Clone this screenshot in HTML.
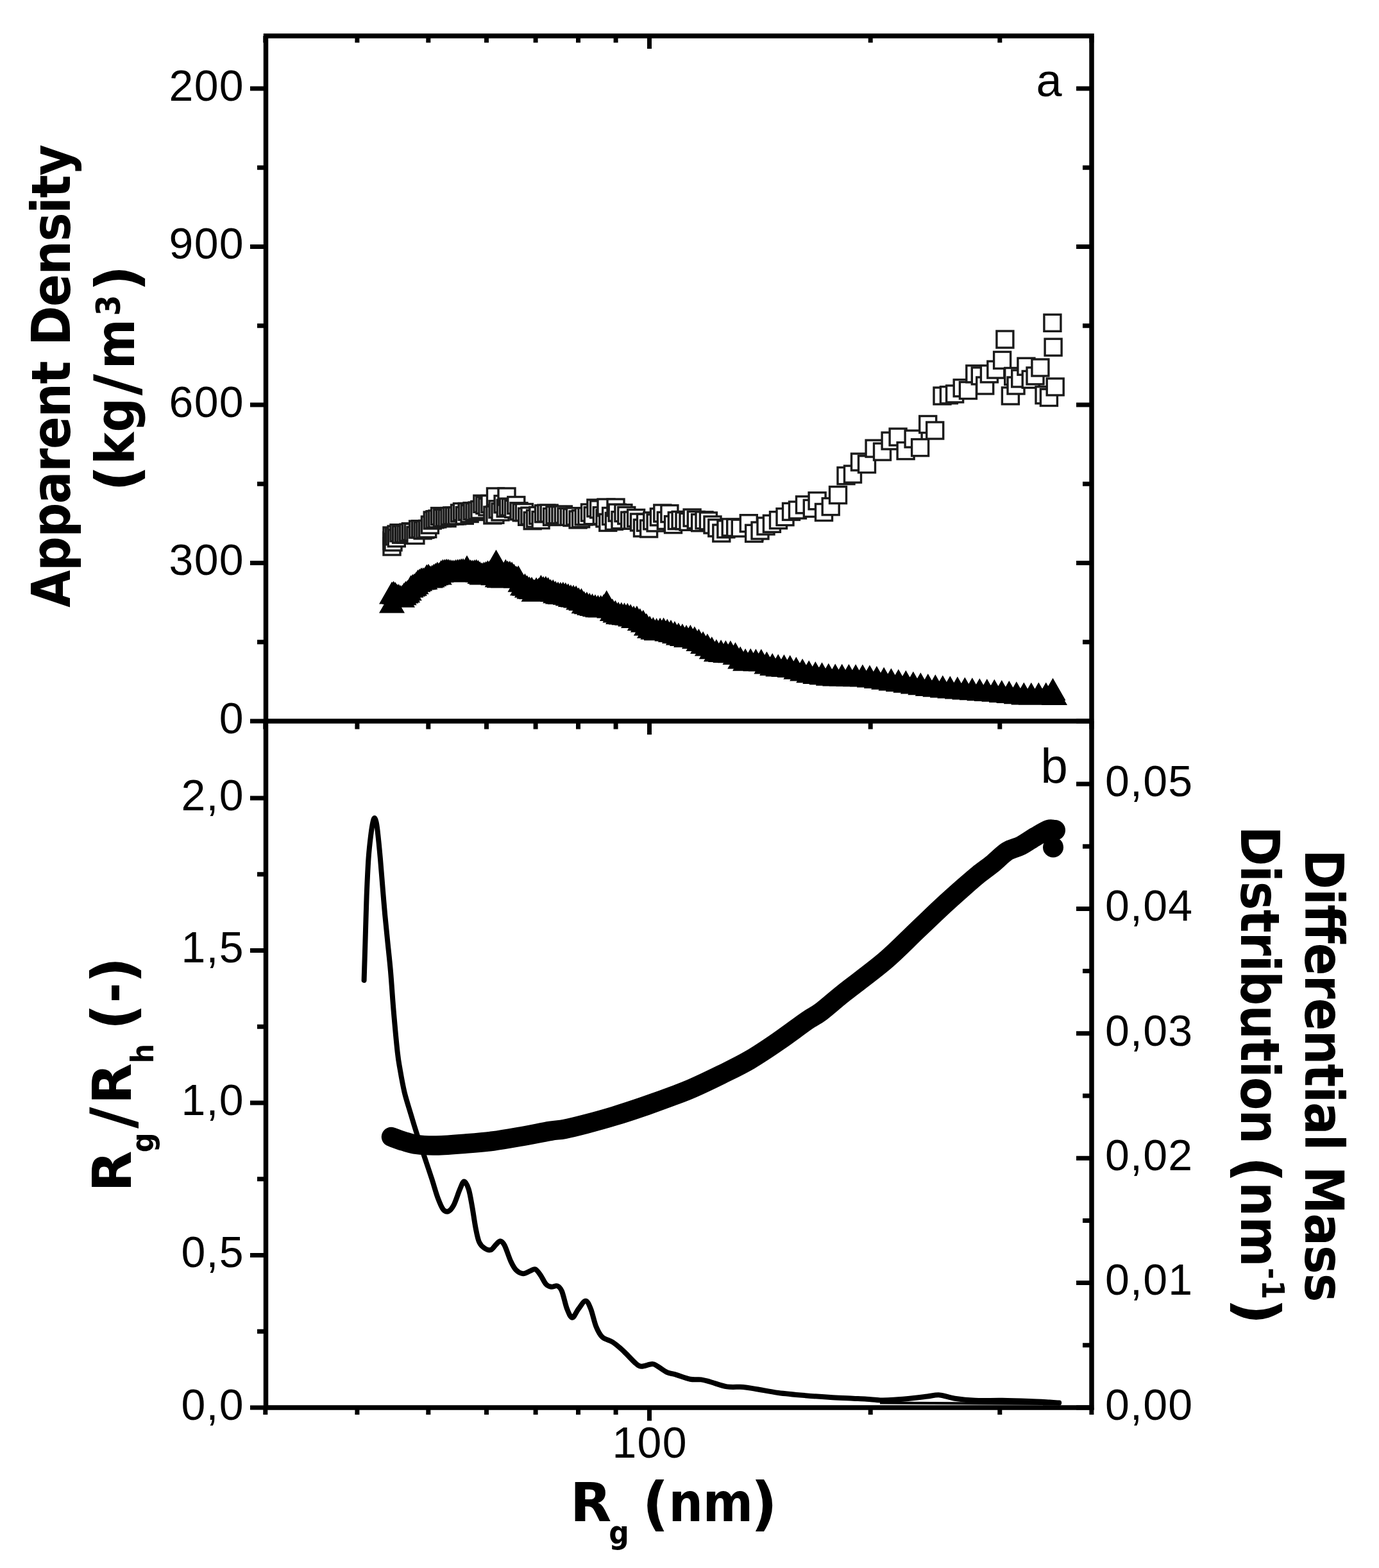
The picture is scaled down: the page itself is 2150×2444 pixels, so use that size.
<!DOCTYPE html>
<html><head><meta charset="utf-8"><title>Apparent density and Rg/Rh vs Rg</title>
<style>html,body{margin:0;padding:0;background:#fff;overflow:hidden}svg{display:block}</style>
</head><body>
<svg width="2150" height="2444" viewBox="0 0 2150 2444"><rect width="100%" height="100%" fill="#fff"/><path d="M390 1124H414.5M1678 1124H1702M401 1000.8H414.5M1688 1000.8H1702M390 877.5H414.5M1678 877.5H1702M401 754.2H414.5M1688 754.2H1702M390 631H414.5M1678 631H1702M401 507.8H414.5M1688 507.8H1702M390 384.5H414.5M1678 384.5H1702M401 261.2H414.5M1688 261.2H1702M390 138H414.5M1678 138H1702M390 2194H414.5M401 2075.2H414.5M390 1956.5H414.5M401 1837.8H414.5M390 1719H414.5M401 1600.2H414.5M390 1481.5H414.5M401 1362.8H414.5M390 1244H414.5M1678 2194H1702M1688 2096.8H1702M1678 1999.6H1702M1688 1902.4H1702M1678 1805.2H1702M1688 1708H1702M1678 1610.8H1702M1688 1513.6H1702M1678 1416.4H1702M1688 1319.2H1702M1678 1222H1702M413.8 56V66.5M413.8 1124V1136.5M413.8 2194V2205M556.9 56V66.5M556.9 1124V1136.5M556.9 2194V2205M667.8 56V66.5M667.8 1124V1136.5M667.8 2194V2205M758.5 56V66.5M758.5 1124V1136.5M758.5 2194V2205M835.1 56V66.5M835.1 1124V1136.5M835.1 2194V2205M901.5 56V66.5M901.5 1124V1136.5M901.5 2194V2205M960.1 56V66.5M960.1 1124V1136.5M960.1 2194V2205M1012.5 56V76M1012.5 1124V1145M1012.5 2194V2214.5M1357.2 56V66.5M1357.2 1124V1136.5M1357.2 2194V2205M1558.8 56V66.5M1558.8 1124V1136.5M1558.8 2194V2205M1701.9 56V66.5M1701.9 1124V1136.5M1701.9 2194V2205" stroke="#000" stroke-width="7.0" fill="none" stroke-linecap="butt"/><path d="M410.8 56H1705.8M410.8 1124H1705.8M410.8 2194H1705.8M414.5 52.2V2197.8M1702 52.2V2197.8" stroke="#000" stroke-width="7.5" fill="none" stroke-linecap="butt"/><text x="380.9" y="156.8" text-anchor="end" font-family="Liberation Sans, Arial, sans-serif" font-size="68" fill="#000" letter-spacing="1.3">200</text><text x="380.9" y="403.3" text-anchor="end" font-family="Liberation Sans, Arial, sans-serif" font-size="68" fill="#000" letter-spacing="1.3">900</text><text x="380.9" y="649.8" text-anchor="end" font-family="Liberation Sans, Arial, sans-serif" font-size="68" fill="#000" letter-spacing="1.3">600</text><text x="380.9" y="896.3" text-anchor="end" font-family="Liberation Sans, Arial, sans-serif" font-size="68" fill="#000" letter-spacing="1.3">300</text><text x="380.9" y="1142.8" text-anchor="end" font-family="Liberation Sans, Arial, sans-serif" font-size="68" fill="#000" letter-spacing="1.3">0</text><text x="380.9" y="1262.8" text-anchor="end" font-family="Liberation Sans, Arial, sans-serif" font-size="68" fill="#000" letter-spacing="1.3">2,0</text><text x="380.9" y="1500.3" text-anchor="end" font-family="Liberation Sans, Arial, sans-serif" font-size="68" fill="#000" letter-spacing="1.3">1,5</text><text x="380.9" y="1737.8" text-anchor="end" font-family="Liberation Sans, Arial, sans-serif" font-size="68" fill="#000" letter-spacing="1.3">1,0</text><text x="380.9" y="1975.3" text-anchor="end" font-family="Liberation Sans, Arial, sans-serif" font-size="68" fill="#000" letter-spacing="1.3">0,5</text><text x="380.9" y="2212.8" text-anchor="end" font-family="Liberation Sans, Arial, sans-serif" font-size="68" fill="#000" letter-spacing="1.3">0,0</text><text x="1722.9" y="1240.8" font-family="Liberation Sans, Arial, sans-serif" font-size="68" fill="#000" letter-spacing="1.3">0,05</text><text x="1722.9" y="1435.2" font-family="Liberation Sans, Arial, sans-serif" font-size="68" fill="#000" letter-spacing="1.3">0,04</text><text x="1722.9" y="1629.6" font-family="Liberation Sans, Arial, sans-serif" font-size="68" fill="#000" letter-spacing="1.3">0,03</text><text x="1722.9" y="1824" font-family="Liberation Sans, Arial, sans-serif" font-size="68" fill="#000" letter-spacing="1.3">0,02</text><text x="1722.9" y="2018.4" font-family="Liberation Sans, Arial, sans-serif" font-size="68" fill="#000" letter-spacing="1.3">0,01</text><text x="1722.9" y="2212.8" font-family="Liberation Sans, Arial, sans-serif" font-size="68" fill="#000" letter-spacing="1.3">0,00</text><text x="1013.1" y="2272" text-anchor="middle" font-family="Liberation Sans, Arial, sans-serif" font-size="68" fill="#000" letter-spacing="1.3">100</text><text x="1615.5" y="150" font-family="Liberation Sans, Arial, sans-serif" font-size="72">a</text><text x="1622.5" y="1219.5" font-family="Liberation Sans, Arial, sans-serif" font-size="76">b</text><text transform="translate(108.7 585.9) rotate(-90)" text-anchor="middle" font-weight="bold" font-family="DejaVu Sans Condensed, DejaVu Sans, sans-serif" font-stretch="condensed" font-size="83.5" textLength="721.7" lengthAdjust="spacing">Apparent Density</text><text transform="translate(209 760) rotate(-90)" font-weight="bold" fill="#000"><tspan x="-6.3" y="5.2" font-family="DejaVu Sans, sans-serif" font-size="90">(</tspan><tspan x="36" y="0" font-family="DejaVu Sans Condensed, DejaVu Sans, sans-serif" font-stretch="condensed" font-size="83.5">k</tspan><tspan x="86.3" y="0" font-family="DejaVu Sans Condensed, DejaVu Sans, sans-serif" font-stretch="condensed" font-size="83.5">g</tspan><tspan x="143.5" y="3.8" font-family="DejaVu Sans, sans-serif" font-size="92">/</tspan><tspan x="184.8" y="0" font-family="DejaVu Sans Condensed, DejaVu Sans, sans-serif" font-stretch="condensed" font-size="83.5">m</tspan><tspan x="267.7" y="-22.3" font-family="DejaVu Sans Condensed, DejaVu Sans, sans-serif" font-stretch="condensed" font-size="52">3</tspan><tspan x="305.4" y="5.2" font-family="DejaVu Sans, sans-serif" font-size="90">)</tspan></text><text transform="translate(203.5 1852) rotate(-90)" font-weight="bold" fill="#000"><tspan x="-5.8" y="0" font-family="DejaVu Sans, sans-serif" font-size="83.5">R</tspan><tspan x="55.8" y="35.2" font-family="DejaVu Sans Condensed, DejaVu Sans, sans-serif" font-stretch="condensed" font-size="48">g</tspan><tspan x="93" y="3.8" font-family="DejaVu Sans, sans-serif" font-size="92">/</tspan><tspan x="130.8" y="0" font-family="DejaVu Sans, sans-serif" font-size="83.5">R</tspan><tspan x="194.5" y="35.2" font-family="DejaVu Sans Condensed, DejaVu Sans, sans-serif" font-stretch="condensed" font-size="48">h</tspan><tspan x="246.2" y="4.9" font-family="DejaVu Sans, sans-serif" font-size="90">(</tspan><tspan x="288.9" y="0" font-family="DejaVu Sans Condensed, DejaVu Sans, sans-serif" font-stretch="condensed" font-size="83.5">-</tspan><tspan x="319.2" y="4.9" font-family="DejaVu Sans, sans-serif" font-size="90">)</tspan></text><text transform="translate(0 2370.5)" font-weight="bold" fill="#000"><tspan x="889.1" y="0" font-family="DejaVu Sans, sans-serif" font-size="83.5">R</tspan><tspan x="949.2" y="35.5" font-family="DejaVu Sans Condensed, DejaVu Sans, sans-serif" font-stretch="condensed" font-size="49">g</tspan><tspan x="1001.5" y="4.6" font-family="DejaVu Sans, sans-serif" font-size="90">(</tspan><tspan x="1042.5" y="0" font-family="DejaVu Sans Condensed, DejaVu Sans, sans-serif" font-stretch="condensed" font-size="83.5">n</tspan><tspan x="1095.7" y="0" font-family="DejaVu Sans Condensed, DejaVu Sans, sans-serif" font-stretch="condensed" font-size="83.5">m</tspan><tspan x="1170.8" y="4.6" font-family="DejaVu Sans, sans-serif" font-size="90">)</tspan></text><text transform="translate(2034.6 1330.6) rotate(90)" font-weight="bold" font-family="DejaVu Sans Condensed, DejaVu Sans, sans-serif" font-stretch="condensed" font-size="83.5" textLength="705.8" lengthAdjust="spacing" x="-6.9">Differential Mass</text><text transform="translate(1934.5 1294.5) rotate(90)" font-weight="bold" fill="#000"><tspan x="-6.9" y="0" font-family="DejaVu Sans Condensed, DejaVu Sans, sans-serif" font-stretch="condensed" font-size="83.5" textLength="495.4" lengthAdjust="spacing">Distribution</tspan><tspan> </tspan><tspan x="507.7" y="5.0" font-family="DejaVu Sans, sans-serif" font-size="90">(</tspan><tspan x="547.7" y="0" font-family="DejaVu Sans Condensed, DejaVu Sans, sans-serif" font-stretch="condensed" font-size="83.5">n</tspan><tspan x="601.7" y="0" font-family="DejaVu Sans Condensed, DejaVu Sans, sans-serif" font-stretch="condensed" font-size="83.5">m</tspan><tspan x="681.4" y="-33.4" font-family="DejaVu Sans Condensed, DejaVu Sans, sans-serif" font-stretch="condensed" font-size="48">-</tspan><tspan x="700.8" y="-33.4" font-family="DejaVu Sans Condensed, DejaVu Sans, sans-serif" font-stretch="condensed" font-size="48">1</tspan><tspan x="728.9" y="5.0" font-family="DejaVu Sans, sans-serif" font-size="90">)</tspan></text><g fill="#fff" stroke="#1a1a1a" stroke-width="3.4"><rect x="598" y="829.8" width="26" height="26"/><rect x="598" y="822" width="26" height="26"/><rect x="598" y="839" width="26" height="26"/><rect x="600" y="832" width="26" height="26"/><rect x="601.6" y="822.8" width="26" height="26"/><rect x="605" y="820" width="26" height="26"/><rect x="605.3" y="825.8" width="26" height="26"/><rect x="609" y="817.7" width="26" height="26"/><rect x="612.6" y="820.1" width="26" height="26"/><rect x="616.3" y="819.1" width="26" height="26"/><rect x="620" y="819.8" width="26" height="26"/><rect x="623.7" y="817.1" width="26" height="26"/><rect x="627.4" y="815.7" width="26" height="26"/><rect x="631.2" y="816.6" width="26" height="26"/><rect x="634.9" y="821.3" width="26" height="26"/><rect x="638.6" y="812.1" width="26" height="26"/><rect x="642.4" y="811.7" width="26" height="26"/><rect x="646.1" y="813.7" width="26" height="26"/><rect x="649.9" y="812.4" width="26" height="26"/><rect x="653.7" y="811.4" width="26" height="26"/><rect x="657.4" y="805.1" width="26" height="26"/><rect x="661.2" y="798" width="26" height="26"/><rect x="665" y="796.7" width="26" height="26"/><rect x="668.8" y="795.9" width="26" height="26"/><rect x="672.6" y="791.6" width="26" height="26"/><rect x="676.5" y="794.5" width="26" height="26"/><rect x="680.3" y="794" width="26" height="26"/><rect x="684.1" y="794.6" width="26" height="26"/><rect x="688" y="791.6" width="26" height="26"/><rect x="691.9" y="790.9" width="26" height="26"/><rect x="695.7" y="791.2" width="26" height="26"/><rect x="699.6" y="790.9" width="26" height="26"/><rect x="703.5" y="786.9" width="26" height="26"/><rect x="707.4" y="784.7" width="26" height="26"/><rect x="711.3" y="790.4" width="26" height="26"/><rect x="715.2" y="784.4" width="26" height="26"/><rect x="719.1" y="787.5" width="26" height="26"/><rect x="723.1" y="783.6" width="26" height="26"/><rect x="727" y="784.5" width="26" height="26"/><rect x="731" y="783" width="26" height="26"/><rect x="734.9" y="781.4" width="26" height="26"/><rect x="738.9" y="772.3" width="26" height="26"/><rect x="742.9" y="774.4" width="26" height="26"/><rect x="746.9" y="777" width="26" height="26"/><rect x="750.9" y="772.5" width="26" height="26"/><rect x="754.9" y="790" width="26" height="26"/><rect x="758.9" y="789.3" width="26" height="26"/><rect x="759.5" y="761" width="26" height="26"/><rect x="763" y="780.8" width="26" height="26"/><rect x="767" y="784.9" width="26" height="26"/><rect x="771.1" y="772.8" width="26" height="26"/><rect x="775.2" y="779.2" width="26" height="26"/><rect x="777" y="761" width="26" height="26"/><rect x="779.3" y="777.1" width="26" height="26"/><rect x="783.5" y="777.6" width="26" height="26"/><rect x="787.6" y="780.3" width="26" height="26"/><rect x="791.8" y="774.5" width="26" height="26"/><rect x="796" y="783.8" width="26" height="26"/><rect x="800.2" y="785.7" width="26" height="26"/><rect x="804.4" y="785.5" width="26" height="26"/><rect x="808.7" y="792.3" width="26" height="26"/><rect x="812.9" y="791.2" width="26" height="26"/><rect x="817.2" y="798.6" width="26" height="26"/><rect x="821.5" y="795.2" width="26" height="26"/><rect x="825.8" y="790.5" width="26" height="26"/><rect x="830.1" y="797.6" width="26" height="26"/><rect x="834.5" y="787.7" width="26" height="26"/><rect x="838.8" y="787.1" width="26" height="26"/><rect x="843.2" y="787.1" width="26" height="26"/><rect x="847.6" y="792.5" width="26" height="26"/><rect x="852" y="789.7" width="26" height="26"/><rect x="856.5" y="789.6" width="26" height="26"/><rect x="860.9" y="789.8" width="26" height="26"/><rect x="865.4" y="789" width="26" height="26"/><rect x="869.9" y="792.3" width="26" height="26"/><rect x="874.4" y="792.3" width="26" height="26"/><rect x="878.9" y="793.5" width="26" height="26"/><rect x="883.5" y="791.8" width="26" height="26"/><rect x="888.1" y="796.9" width="26" height="26"/><rect x="892.6" y="795.7" width="26" height="26"/><rect x="897.2" y="791.9" width="26" height="26"/><rect x="901.9" y="791.7" width="26" height="26"/><rect x="906.5" y="786" width="26" height="26"/><rect x="911.2" y="790.7" width="26" height="26"/><rect x="915.9" y="778.9" width="26" height="26"/><rect x="920.6" y="780.9" width="26" height="26"/><rect x="925.3" y="790.7" width="26" height="26"/><rect x="930" y="794.9" width="26" height="26"/><rect x="932" y="778" width="26" height="26"/><rect x="934.8" y="801.4" width="26" height="26"/><rect x="939.6" y="791.5" width="26" height="26"/><rect x="944.4" y="799.4" width="26" height="26"/><rect x="947" y="778" width="26" height="26"/><rect x="949.2" y="786.1" width="26" height="26"/><rect x="954" y="797.7" width="26" height="26"/><rect x="958.9" y="786.6" width="26" height="26"/><rect x="963.8" y="790.5" width="26" height="26"/><rect x="968.7" y="798.2" width="26" height="26"/><rect x="973.6" y="798.1" width="26" height="26"/><rect x="978.6" y="794.4" width="26" height="26"/><rect x="983.5" y="801" width="26" height="26"/><rect x="988.5" y="810" width="26" height="26"/><rect x="993.5" y="801.4" width="26" height="26"/><rect x="998.6" y="811" width="26" height="26"/><rect x="1003.8" y="798.8" width="26" height="26"/><rect x="1009.1" y="801.9" width="26" height="26"/><rect x="1014.4" y="792.8" width="26" height="26"/><rect x="1019.8" y="787" width="26" height="26"/><rect x="1025.3" y="798.4" width="26" height="26"/><rect x="1030.9" y="787.6" width="26" height="26"/><rect x="1036.5" y="804.6" width="26" height="26"/><rect x="1042.3" y="798.6" width="26" height="26"/><rect x="1048.1" y="797.4" width="26" height="26"/><rect x="1054" y="798.7" width="26" height="26"/><rect x="1060" y="800.3" width="26" height="26"/><rect x="1066.1" y="794" width="26" height="26"/><rect x="1072.3" y="797.4" width="26" height="26"/><rect x="1078.6" y="801.7" width="26" height="26"/><rect x="1085" y="797.8" width="26" height="26"/><rect x="1091.4" y="798.9" width="26" height="26"/><rect x="1098" y="805" width="26" height="26"/><rect x="1104.8" y="809.9" width="26" height="26"/><rect x="1111.8" y="818" width="26" height="26"/><rect x="1118.9" y="811.7" width="26" height="26"/><rect x="1126.2" y="808.9" width="26" height="26"/><rect x="1133.7" y="809.4" width="26" height="26"/><rect x="1141.3" y="810.1" width="26" height="26"/><rect x="1163" y="816" width="26" height="26"/><rect x="1154.3" y="802.7" width="26" height="26"/><rect x="1162.6" y="818.3" width="26" height="26"/><rect x="1172" y="814" width="26" height="26"/><rect x="1181" y="807" width="26" height="26"/><rect x="1190.4" y="803.3" width="26" height="26"/><rect x="1200.5" y="797.7" width="26" height="26"/><rect x="1211" y="792.7" width="26" height="26"/><rect x="1220.5" y="784.4" width="26" height="26"/><rect x="1230.5" y="782" width="26" height="26"/><rect x="1241.5" y="773.8" width="26" height="26"/><rect x="1253.3" y="779.4" width="26" height="26"/><rect x="1261.1" y="767.7" width="26" height="26"/><rect x="1271.5" y="785.5" width="26" height="26"/><rect x="1282.2" y="776.6" width="26" height="26"/><rect x="1293.5" y="758.6" width="26" height="26"/><rect x="1306" y="728.6" width="26" height="26"/><rect x="1316.5" y="726.1" width="26" height="26"/><rect x="1327.5" y="707.1" width="26" height="26"/><rect x="1338.5" y="710.6" width="26" height="26"/><rect x="1350.1" y="686.1" width="26" height="26"/><rect x="1362.5" y="691.1" width="26" height="26"/><rect x="1375.1" y="674.1" width="26" height="26"/><rect x="1387.1" y="668.1" width="26" height="26"/><rect x="1399.1" y="689.6" width="26" height="26"/><rect x="1411.1" y="671.1" width="26" height="26"/><rect x="1421.6" y="684.6" width="26" height="26"/><rect x="1433.7" y="648.5" width="26" height="26"/><rect x="1444.7" y="658" width="26" height="26"/><rect x="1456" y="604.1" width="26" height="26"/><rect x="1466.4" y="602.8" width="26" height="26"/><rect x="1475.6" y="601" width="26" height="26"/><rect x="1487.2" y="591.8" width="26" height="26"/><rect x="1496.4" y="595.5" width="26" height="26"/><rect x="1506.8" y="569.8" width="26" height="26"/><rect x="1515.3" y="572.9" width="26" height="26"/><rect x="1522.7" y="588" width="26" height="26"/><rect x="1529.4" y="569.8" width="26" height="26"/><rect x="1539.8" y="563.1" width="26" height="26"/><rect x="1549.6" y="548.4" width="26" height="26"/><rect x="1553.9" y="516" width="26" height="26"/><rect x="1562.4" y="604" width="26" height="26"/><rect x="1566.7" y="573.5" width="26" height="26"/><rect x="1571" y="588" width="26" height="26"/><rect x="1577.7" y="577" width="26" height="26"/><rect x="1586.9" y="558.2" width="26" height="26"/><rect x="1594.2" y="578.4" width="26" height="26"/><rect x="1601" y="572.9" width="26" height="26"/><rect x="1608.9" y="560" width="26" height="26"/><rect x="1615" y="602.8" width="26" height="26"/><rect x="1622.4" y="606.5" width="26" height="26"/><rect x="1627.9" y="490.3" width="26" height="26"/><rect x="1629.1" y="528.2" width="26" height="26"/><rect x="1632.2" y="590" width="26" height="26"/></g><path d="M611 906.6l20 35h-40zM613.6 905.6l20 35h-40zM616.3 907l20 35h-40zM619 910l20 35h-40zM621.6 910l20 35h-40zM624.3 911.8l20 35h-40zM627 911.7l20 35h-40zM629.7 908.2l20 35h-40zM632.4 905.4l20 35h-40zM635.1 904.3l20 35h-40zM637.8 901.2l20 35h-40zM640.5 896.4l20 35h-40zM643.2 894.8l20 35h-40zM645.9 893.8l20 35h-40zM648.7 891.2l20 35h-40zM651.4 887.7l20 35h-40zM654.1 886.3l20 35h-40zM656.9 884.4l20 35h-40zM659.7 884.3l20 35h-40zM662.4 883.7l20 35h-40zM665.2 879.4l20 35h-40zM668 878.7l20 35h-40zM670.7 881.4l20 35h-40zM673.5 880.5l20 35h-40zM676.3 878.7l20 35h-40zM679.1 877.2l20 35h-40zM681.9 875.4l20 35h-40zM684.8 876.4l20 35h-40zM687.6 873l20 35h-40zM690.4 871.5l20 35h-40zM693.3 871.2l20 35h-40zM696.1 870.7l20 35h-40zM698.9 871.1l20 35h-40zM701.8 871.8l20 35h-40zM704.7 872.2l20 35h-40zM707.5 872.4l20 35h-40zM710.4 871.8l20 35h-40zM713.3 871.3l20 35h-40zM716.2 871.1l20 35h-40zM719.1 870.2l20 35h-40zM722 869.9l20 35h-40zM724.9 871l20 35h-40zM727.8 872.3l20 35h-40zM730.7 872.6l20 35h-40zM733.7 872l20 35h-40zM736.6 872.6l20 35h-40zM739.6 872l20 35h-40zM742.5 871.6l20 35h-40zM745.5 872.7l20 35h-40zM748.4 875.1l20 35h-40zM751.4 876.4l20 35h-40zM754.4 875.6l20 35h-40zM757.4 874.7l20 35h-40zM760.4 873.3l20 35h-40zM763.4 873.4l20 35h-40zM766.4 873.7l20 35h-40zM769.4 877.3l20 35h-40zM772.5 875.9l20 35h-40zM775.6 880.3l20 35h-40zM778.8 881.2l20 35h-40zM781.9 880.4l20 35h-40zM785.1 881.4l20 35h-40zM788.3 871.6l20 35h-40zM791.5 873.8l20 35h-40zM794.8 874l20 35h-40zM798.1 875.6l20 35h-40zM801.4 878.8l20 35h-40zM804.8 881.7l20 35h-40zM808.1 881.3l20 35h-40zM811.5 887.7l20 35h-40zM815 893.2l20 35h-40zM818.4 893.7l20 35h-40zM821.9 896.4l20 35h-40zM825.4 898.5l20 35h-40zM829 899.1l20 35h-40zM832.5 902.8l20 35h-40zM836.1 899.7l20 35h-40zM839.8 900.4l20 35h-40zM843.4 896.1l20 35h-40zM847.1 897.9l20 35h-40zM850.9 897.7l20 35h-40zM854.6 899.5l20 35h-40zM858.4 902.5l20 35h-40zM862.2 902.9l20 35h-40zM866.1 905.2l20 35h-40zM870 906.4l20 35h-40zM873.9 906.9l20 35h-40zM877.8 906.8l20 35h-40zM881.8 907.8l20 35h-40zM885.8 909.2l20 35h-40zM889.9 910.9l20 35h-40zM894 911.5l20 35h-40zM898.1 912.5l20 35h-40zM902.2 915.5l20 35h-40zM906.4 916.7l20 35h-40zM910.6 921.3l20 35h-40zM914.9 922.3l20 35h-40zM919.2 924l20 35h-40zM923.5 924.9l20 35h-40zM927.9 926.2l20 35h-40zM932.3 927.3l20 35h-40zM936.7 927.4l20 35h-40zM941.2 926l20 35h-40zM945.7 925.1l20 35h-40zM950.2 928.5l20 35h-40zM954.8 933.1l20 35h-40zM959.4 935.4l20 35h-40zM964.1 938l20 35h-40zM968.8 938.6l20 35h-40zM973.5 939.2l20 35h-40zM978.3 939.7l20 35h-40zM983.1 941.5l20 35h-40zM988 944.1l20 35h-40zM992.9 944l20 35h-40zM997.8 948l20 35h-40zM1002.8 950.5l20 35h-40zM1007.9 955.8l20 35h-40zM1013 959.7l20 35h-40zM1018.3 961.7l20 35h-40zM1023.6 963.2l20 35h-40zM1029.1 962.8l20 35h-40zM1034.6 962.5l20 35h-40zM1040.3 964.4l20 35h-40zM1046 966.1l20 35h-40zM1051.9 968.1l20 35h-40zM1057.8 970.5l20 35h-40zM1063.9 971.9l20 35h-40zM1070.1 973.9l20 35h-40zM1076.4 973.7l20 35h-40zM1082.9 976.2l20 35h-40zM1089.4 979.9l20 35h-40zM1096.1 983.9l20 35h-40zM1102.9 987.6l20 35h-40zM1109.8 992.3l20 35h-40zM1116.9 996.3l20 35h-40zM1124.1 997.1l20 35h-40zM1131.4 998l20 35h-40zM1138.9 998.3l20 35h-40zM1146.5 1001.1l20 35h-40zM1154.2 1007.4l20 35h-40zM1162.1 1010.7l20 35h-40zM1170.2 1010.4l20 35h-40zM1178.4 1011.3l20 35h-40zM1186.8 1011.5l20 35h-40zM1195.4 1015.4l20 35h-40zM1204.2 1018l20 35h-40zM1213.2 1019.6l20 35h-40zM1222.4 1020.1l20 35h-40zM1231.7 1020.9l20 35h-40zM1241.3 1023.8l20 35h-40zM1251.1 1026.5l20 35h-40zM1261.2 1029.3l20 35h-40zM1271.3 1031l20 35h-40zM1281.5 1032.3l20 35h-40zM1291.8 1033.8l20 35h-40zM1302.2 1034.5l20 35h-40zM1312.7 1034.7l20 35h-40zM1323.4 1034.9l20 35h-40zM1334.1 1035.2l20 35h-40zM1344.9 1035.4l20 35h-40zM1355.9 1036.4l20 35h-40zM1366.9 1038l20 35h-40zM1378.1 1039.7l20 35h-40zM1389.4 1041.4l20 35h-40zM1400.8 1043.1l20 35h-40zM1412.3 1044.8l20 35h-40zM1423.8 1046.6l20 35h-40zM1435.3 1048.3l20 35h-40zM1446.8 1050l20 35h-40zM1458.3 1051.3l20 35h-40zM1469.8 1052.4l20 35h-40zM1481.3 1053.4l20 35h-40zM1492.8 1054.5l20 35h-40zM1504.3 1055.5l20 35h-40zM1515.8 1056.3l20 35h-40zM1527.3 1057.2l20 35h-40zM1538.8 1058l20 35h-40zM1550.3 1058.8l20 35h-40zM1561.8 1060l20 35h-40zM1573.3 1061.1l20 35h-40zM1584.8 1062.3l20 35h-40zM1596.3 1063.4l20 35h-40zM1607.8 1063.7l20 35h-40zM1619.3 1063.6l20 35h-40zM1630.8 1063.5l20 35h-40zM611 920.5l20 35h-40zM773.5 856.7l20 35h-40zM728 865.5l20 35h-40zM945.7 920l20 35h-40zM1641.5 1056.7l20 35h-40zM1644 1064l20 35h-40z" fill="#000"/><path d="M610 1772C613.3 1773.2 623.3 1777 630 1779C636.7 1781 641.7 1782.9 650 1784C658.3 1785.1 667.6 1785.6 680 1785.4C692.4 1785.2 709.7 1783.9 724.5 1782.7C739.3 1781.5 754.2 1780.4 769 1778.5C783.8 1776.6 798.7 1773.8 813.5 1771.2C828.3 1768.6 846.9 1764.8 858 1762.9C869.1 1761 870.8 1761.8 880 1760C889.2 1758.2 900.4 1755.4 913.4 1752C926.4 1748.6 943.1 1744 957.9 1739.5C972.7 1735 987.6 1730.1 1002.4 1725C1017.2 1719.9 1034 1713.8 1046.9 1709C1059.8 1704.2 1067.1 1701.7 1080 1696C1092.9 1690.3 1109.7 1682.3 1124.5 1675C1139.3 1667.7 1154.2 1660.7 1169 1652C1183.8 1643.3 1198.7 1633.2 1213.5 1623C1228.3 1612.8 1246.9 1598.7 1258 1591C1269.1 1583.3 1270.3 1584.3 1280 1577C1289.7 1569.7 1299.3 1560.7 1316 1547.4C1332.7 1534.1 1361 1513.6 1380 1497.4C1399 1481.2 1415 1464.2 1430 1450C1445 1435.8 1457.8 1423.3 1470 1412C1482.2 1400.7 1494.1 1390.2 1503.4 1382C1512.7 1373.8 1518.2 1369 1525.6 1363C1533 1357 1540.5 1352 1547.9 1346C1555.3 1340 1562.7 1331.7 1570 1327C1577.3 1322.3 1584.6 1321.8 1592 1318C1599.4 1314.2 1607.4 1308.2 1614.6 1304C1621.8 1299.8 1629.9 1294.7 1635 1293C1640.1 1291.3 1643.3 1293.8 1645 1294" fill="none" stroke="#000" stroke-width="30.5" stroke-linecap="round" stroke-linejoin="round"/><circle cx="1645" cy="1294" r="16"/><circle cx="1642" cy="1320.5" r="16"/><circle cx="1608" cy="1774" r="0"/><path d="M567.6 1528C567.9 1518.4 568.7 1492.2 569.4 1470.3C570.1 1448.4 570.8 1418.8 571.6 1396.8C572.5 1374.8 573.4 1354 574.5 1338.1C575.6 1322.2 577 1310.9 578.2 1301.4C579.4 1291.9 580.5 1285.4 581.5 1281C582.5 1276.6 583.2 1275 584 1275C584.8 1275 585.8 1277.8 586.5 1281C587.2 1284.2 587.4 1284.5 588.5 1294C589.6 1303.5 591.6 1323.4 592.9 1338.1C594.2 1352.8 595.3 1367.5 596.5 1382.2C597.7 1396.9 598.9 1411.5 600.2 1426.2C601.6 1440.9 603.1 1455.6 604.6 1470.3C606.1 1485 607.5 1496.9 609 1514.3C610.5 1531.7 611.8 1553.8 613.6 1574.8C615.4 1595.8 618 1624.6 619.7 1640C621.4 1655.4 622 1656.9 623.8 1667.4C625.6 1677.9 628 1691.6 630.7 1703C633.5 1714.4 636.9 1724.5 640.3 1735.9C643.7 1747.3 647.6 1760.1 651.2 1771.5C654.9 1782.9 658.5 1793.4 662.2 1804.4C665.9 1815.4 669.8 1826.8 673.2 1837.3C676.6 1847.8 679.7 1859.4 682.7 1867.4C685.7 1875.4 688.2 1881.8 691 1885.2C693.8 1888.6 696.5 1889.1 699.2 1888C701.9 1886.9 704.4 1884.1 707.4 1878.4C710.4 1872.7 714.3 1859.9 717 1853.7C719.7 1847.5 721.5 1841.4 723.8 1841.4C726.1 1841.4 728.6 1847.1 730.7 1853.7C732.8 1860.3 734.4 1871 736.2 1881C738 1891 739.8 1904.8 741.6 1914C743.4 1923.2 744.8 1930.8 747.1 1936C749.4 1941.2 752.3 1943.5 755.3 1945.5C758.3 1947.5 762 1949.1 765 1948.2C768 1947.3 770.7 1942.3 773.2 1940C775.7 1937.7 777.7 1934.3 780 1934.5C782.3 1934.7 784.1 1936.2 786.8 1941.4C789.5 1946.7 793.4 1959.6 796.4 1966C799.4 1972.4 801.5 1976.5 804.7 1979.7C807.9 1982.9 812 1985 815.6 1985.2C819.2 1985.4 823.4 1982.1 826.6 1981C829.8 1979.9 832.1 1977.2 834.8 1978.4C837.5 1979.6 840.3 1984.1 843 1988C845.7 1991.9 848.5 1998.6 851.2 2001.6C854 2004.6 856.5 2005.3 859.5 2005.8C862.5 2006.3 866.2 2003.3 869 2004.4C871.8 2005.5 873.5 2006.7 876 2012.6C878.5 2018.5 881.3 2033.2 884 2040C886.7 2046.8 889.3 2053.7 892.3 2053.7C895.3 2053.7 898.6 2044.3 902 2040C905.4 2035.7 909.7 2027.7 912.9 2027.7C916.1 2027.7 918.3 2033.4 921 2040C923.7 2046.6 926.3 2060.1 929.3 2067.4C932.3 2074.7 934.6 2079.7 938.9 2083.8C943.2 2087.9 950.3 2088.8 955.3 2092C960.3 2095.2 965.4 2099.9 969 2103C972.6 2106.1 973.1 2106.9 976.9 2110.7C980.7 2114.4 987.8 2122.3 991.7 2125.5C995.6 2128.7 996 2129.6 1000.2 2129.7C1004.4 2129.8 1012.8 2126 1017 2126C1021.2 2126 1021.6 2127.5 1025.5 2129.7C1029.4 2131.9 1035.7 2137.1 1040.3 2139.2C1044.9 2141.3 1047 2140.6 1053 2142.4C1059 2144.2 1069.5 2148.5 1076.2 2149.8C1082.9 2151.1 1087.8 2149.7 1093.1 2150.4C1098.4 2151.1 1101.2 2152.2 1107.9 2154C1114.6 2155.8 1124.8 2160.1 1133.3 2161.4C1141.8 2162.7 1150.8 2161.3 1158.6 2161.9C1166.3 2162.5 1170.6 2163.7 1179.8 2165.2C1189 2166.7 1200.9 2169.3 1213.6 2171C1226.3 2172.7 1241.8 2174 1255.9 2175.2C1270 2176.4 1285.8 2177.6 1298.1 2178.3C1310.4 2179.1 1321.2 2179.3 1330 2179.7C1338.8 2180.1 1344 2180.2 1351.1 2180.7C1358.1 2181.1 1365.2 2182.2 1372.3 2182.4C1379.3 2182.6 1384.6 2182.4 1393.4 2181.8C1402.2 2181.2 1416.3 2179.9 1425.1 2179C1433.9 2178.1 1439.5 2177.3 1446.2 2176.5C1452.9 2175.7 1458.2 2173.9 1465.2 2174.4C1472.2 2174.9 1479.3 2178.3 1488.5 2179.7C1497.7 2181.1 1507.9 2182.3 1520.2 2182.8C1532.5 2183.3 1548.4 2182.6 1562.5 2182.8C1576.6 2183 1592.4 2183.5 1604.7 2183.9C1617 2184.3 1628.7 2185 1636.4 2185.4C1644.2 2185.8 1648.7 2186.4 1651.2 2186.6" fill="none" stroke="#000" stroke-width="8" stroke-linecap="round" stroke-linejoin="round"/><path d="M1372 2186.5C1450 2187 1550 2187.5 1626 2188" fill="none" stroke="#000" stroke-width="4"/><path d="M1626 2184H1652V2190.5H1626z" fill="#000"/></svg>
</body></html>
